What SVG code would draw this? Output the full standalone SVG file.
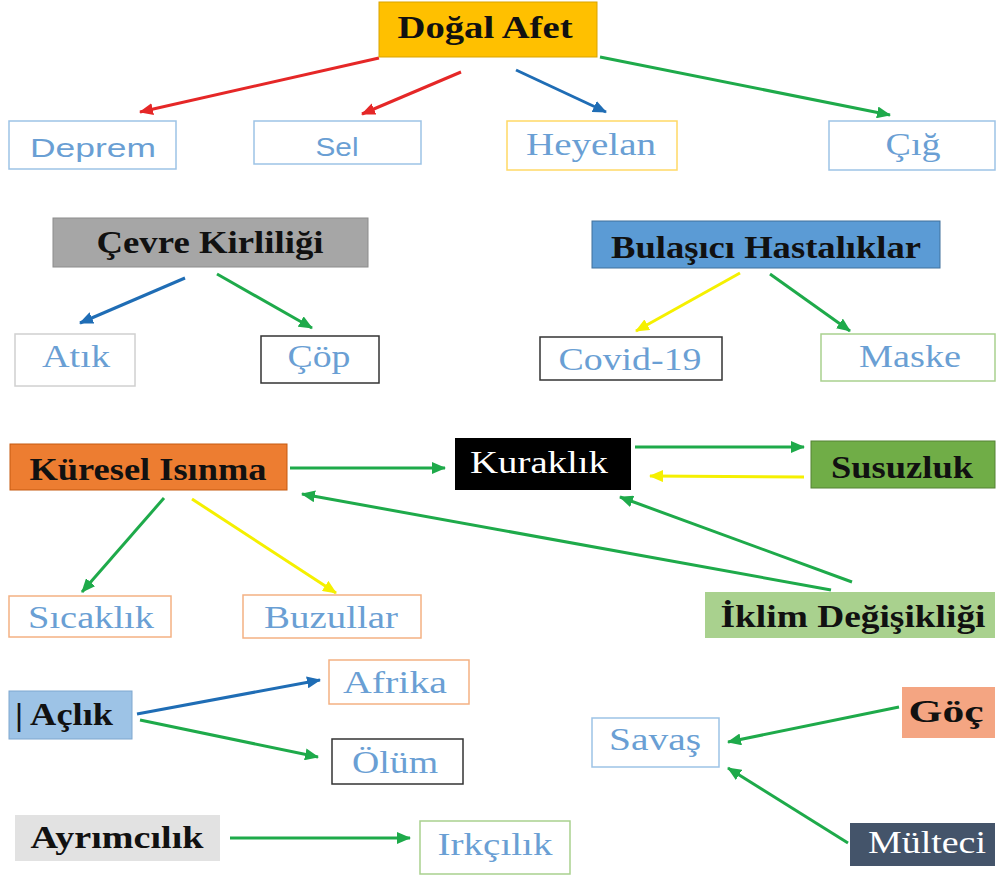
<svg xmlns="http://www.w3.org/2000/svg" width="996" height="877" viewBox="0 0 996 877">
<style>
.bg{fill:#ffffff}
.t{font-family:"Liberation Serif","Times New Roman",serif;font-size:32px;text-anchor:middle}
.tb{font-weight:bold;fill:#111}
.tl{fill:#6A9FD4}
.ts{font-family:"Liberation Sans",Arial,sans-serif;font-size:26px;fill:#6A9FD4;text-anchor:middle}
.tw{fill:#ffffff}
.ob{fill:#ffffff;stroke-width:1.5}
.c{fill:none;stroke-width:3}
.red{stroke:#E52727}
.blue{stroke:#1F6DB5}
.green{stroke:#1EAA4A}
.yellow{stroke:#F5F000}
</style>
<defs>
<marker id="mr" markerUnits="userSpaceOnUse" markerWidth="14" markerHeight="12" refX="13" refY="6" orient="auto"><path d="M0,0 L14,6 L0,12 z" fill="#E52727"/></marker>
<marker id="mb" markerUnits="userSpaceOnUse" markerWidth="14" markerHeight="12" refX="13" refY="6" orient="auto"><path d="M0,0 L14,6 L0,12 z" fill="#1F6DB5"/></marker>
<marker id="mg" markerUnits="userSpaceOnUse" markerWidth="14" markerHeight="12" refX="13" refY="6" orient="auto"><path d="M0,0 L14,6 L0,12 z" fill="#1EAA4A"/></marker>
<marker id="my" markerUnits="userSpaceOnUse" markerWidth="14" markerHeight="12" refX="13" refY="6" orient="auto"><path d="M0,0 L14,6 L0,12 z" fill="#F5F000"/></marker>
</defs>
<rect class="bg" x="0" y="0" width="996" height="877"/>

<g id="connectors">
<line class="c red" x1="379" y1="58" x2="140" y2="112" marker-end="url(#mr)"/>
<line class="c red" x1="461" y1="72" x2="362" y2="114" marker-end="url(#mr)"/>
<line class="c blue" x1="516" y1="70" x2="606" y2="112" marker-end="url(#mb)"/>
<line class="c green" x1="600" y1="57" x2="890" y2="115" marker-end="url(#mg)"/>
<line class="c blue" x1="185" y1="278" x2="80" y2="323" marker-end="url(#mb)"/>
<line class="c green" x1="217" y1="274" x2="312" y2="328" marker-end="url(#mg)"/>
<line class="c yellow" x1="740" y1="273" x2="636" y2="331" marker-end="url(#my)"/>
<line class="c green" x1="770" y1="274" x2="850" y2="331" marker-end="url(#mg)"/>
<line class="c green" x1="290" y1="468" x2="445" y2="468" marker-end="url(#mg)"/>
<line class="c green" x1="635" y1="447" x2="804" y2="447" marker-end="url(#mg)"/>
<line class="c yellow" x1="804" y1="477" x2="650" y2="476" marker-end="url(#my)"/>
<line class="c green" x1="831" y1="590" x2="302" y2="494" marker-end="url(#mg)"/>
<line class="c green" x1="852" y1="582" x2="620" y2="497" marker-end="url(#mg)"/>
<line class="c green" x1="164" y1="498" x2="82" y2="592" marker-end="url(#mg)"/>
<line class="c yellow" x1="192" y1="499" x2="336" y2="593" marker-end="url(#my)"/>
<line class="c blue" x1="137" y1="714" x2="320" y2="680" marker-end="url(#mb)"/>
<line class="c green" x1="140" y1="720" x2="318" y2="757" marker-end="url(#mg)"/>
<line class="c green" x1="230" y1="838" x2="410" y2="838" marker-end="url(#mg)"/>
<line class="c green" x1="899" y1="707" x2="728" y2="742" marker-end="url(#mg)"/>
<line class="c green" x1="848" y1="843" x2="728" y2="768" marker-end="url(#mg)"/>
</g>

<g id="dogal-afet"><rect x="379" y="2" width="218" height="55" fill="#FFC000" stroke="#D9A300" stroke-width="1"/><text class="t tb" x="485" y="38" textLength="175" lengthAdjust="spacingAndGlyphs">Doğal Afet</text></g>
<g id="deprem"><rect class="ob" x="9" y="121" width="167" height="48" stroke="#9DC3E6"/><text class="ts" x="93" y="157" textLength="126" lengthAdjust="spacingAndGlyphs">Deprem</text></g>
<g id="sel"><rect class="ob" x="254" y="121" width="167" height="43" stroke="#9DC3E6"/><text class="ts" x="337" y="156" textLength="43" lengthAdjust="spacingAndGlyphs">Sel</text></g>
<g id="heyelan"><rect class="ob" x="507" y="121" width="170" height="49" stroke="#FFD966"/><text class="t tl" x="591" y="155" textLength="130" lengthAdjust="spacingAndGlyphs">Heyelan</text></g>
<g id="cig"><rect class="ob" x="829" y="121" width="166" height="49" stroke="#9DC3E6"/><text class="t tl" x="913" y="155" textLength="55" lengthAdjust="spacingAndGlyphs">Çığ</text></g>

<g id="cevre-kirliligi"><rect x="53" y="218" width="315" height="49" fill="#A6A6A6" stroke="#8C8C8C" stroke-width="1"/><text class="t" x="210" y="253" fill="#111" font-weight="600" textLength="227" lengthAdjust="spacingAndGlyphs">Çevre Kirliliği</text></g>
<g id="atik"><rect class="ob" x="15" y="334" width="120" height="52" stroke="#D0D0D0"/><text class="t tl" x="76" y="367" textLength="68" lengthAdjust="spacingAndGlyphs">Atık</text></g>
<g id="cop"><rect class="ob" x="261" y="336" width="118" height="47" stroke="#333333"/><text class="t tl" x="319" y="367" textLength="63" lengthAdjust="spacingAndGlyphs">Çöp</text></g>

<g id="bulasici-hastaliklar"><rect x="592" y="221" width="348" height="47" fill="#5B9BD5" stroke="#41719C" stroke-width="1"/><text class="t tb" x="766" y="258" textLength="310" lengthAdjust="spacingAndGlyphs">Bulaşıcı Hastalıklar</text></g>
<g id="covid"><rect class="ob" x="540" y="337" width="182" height="43" stroke="#333333"/><text class="t tl" x="630" y="370" textLength="143" lengthAdjust="spacingAndGlyphs">Covid-19</text></g>
<g id="maske"><rect class="ob" x="821" y="334" width="174" height="47" stroke="#A9D18E"/><text class="t tl" x="910" y="367" textLength="102" lengthAdjust="spacingAndGlyphs">Maske</text></g>

<g id="kuresel-isinma"><rect x="10" y="444" width="277" height="46" fill="#ED7D31" stroke="#C55A11" stroke-width="1"/><text class="t tb" x="148" y="480" textLength="237" lengthAdjust="spacingAndGlyphs">Küresel Isınma</text></g>
<g id="kuraklik"><rect x="455" y="438" width="176" height="52" fill="#000000"/><text class="t tw" x="539" y="473" textLength="138" lengthAdjust="spacingAndGlyphs">Kuraklık</text></g>
<g id="susuzluk"><rect x="811" y="441" width="184" height="47" fill="#70AD47" stroke="#548235" stroke-width="1"/><text class="t" x="902" y="478" fill="#111" font-weight="600" textLength="142" lengthAdjust="spacingAndGlyphs">Susuzluk</text></g>
<g id="iklim-degisikligi"><rect x="705" y="592" width="290" height="46" fill="#A9D18E"/><text class="t" x="853" y="627" fill="#111" font-weight="600" textLength="265" lengthAdjust="spacingAndGlyphs">İklim Değişikliği</text></g>
<g id="sicaklik"><rect class="ob" x="9" y="596" width="162" height="41" stroke="#F4B183"/><text class="t tl" x="91" y="628" textLength="126" lengthAdjust="spacingAndGlyphs">Sıcaklık</text></g>
<g id="buzullar"><rect class="ob" x="243" y="595" width="178" height="43" stroke="#F4B183"/><text class="t tl" x="331" y="628" textLength="134" lengthAdjust="spacingAndGlyphs">Buzullar</text></g>

<g id="aclik"><rect x="9" y="691" width="123" height="48" fill="#9DC3E6" stroke="#7FA7CF" stroke-width="1"/><text class="t tb" x="64" y="725" textLength="98" lengthAdjust="spacingAndGlyphs">| Açlık</text></g>
<g id="afrika"><rect class="ob" x="329" y="660" width="140" height="44" stroke="#F4B183"/><text class="t tl" x="395" y="693" textLength="104" lengthAdjust="spacingAndGlyphs">Afrika</text></g>
<g id="olum"><rect class="ob" x="332" y="739" width="131" height="45" stroke="#333333"/><text class="t tl" x="395" y="773" textLength="86" lengthAdjust="spacingAndGlyphs">Ölüm</text></g>

<g id="ayrimcilik"><rect x="15" y="815" width="205" height="46" fill="#E2E2E2"/><text class="t tb" x="117" y="848" textLength="173" lengthAdjust="spacingAndGlyphs">Ayrımcılık</text></g>
<g id="irkcilik"><rect class="ob" x="420" y="821" width="150" height="53" stroke="#A9D18E"/><text class="t tl" x="495" y="855" textLength="115" lengthAdjust="spacingAndGlyphs">Irkçılık</text></g>

<g id="savas"><rect class="ob" x="592" y="718" width="127" height="49" stroke="#9DC3E6"/><text class="t tl" x="655" y="750" textLength="92" lengthAdjust="spacingAndGlyphs">Savaş</text></g>
<g id="goc"><rect x="902" y="687" width="93" height="51" fill="#F4A582"/><text class="t" x="946" y="722" fill="#111" font-weight="600" textLength="75" lengthAdjust="spacingAndGlyphs">Göç</text></g>
<g id="multeci"><rect x="850" y="823" width="145" height="43" fill="#44546A"/><text class="t tw" x="927" y="853" textLength="118" lengthAdjust="spacingAndGlyphs">Mülteci</text></g>
</svg>
